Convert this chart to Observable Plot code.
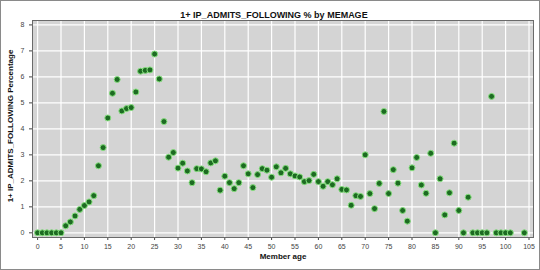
<!DOCTYPE html>
<html><head><meta charset="utf-8">
<script src="https://cdn.jsdelivr.net/npm/d3@7"></script>
<script src="https://cdn.jsdelivr.net/npm/@observablehq/plot@0.6"></script>
<style>
html,body{margin:0;padding:0;background:#fff;}
#chart{width:540px;height:270px;box-sizing:border-box;border:1px solid #8a8a8a;overflow:hidden;background:#fff;}
#chart svg{display:block;}
</style></head><body><div id="chart"></div>
<script>
const ages = [0,1,2,3,4,5,6,7,8,9,10,11,12,13,14,15,16,17,18,19,20,21,22,23,24,25,26,27,28,29,30,31,32,33,34,35,36,37,38,39,40,41,42,43,44,45,46,47,48,49,50,51,52,53,54,55,56,57,58,59,60,61,62,63,64,65,66,67,68,69,70,71,72,73,74,75,76,77,78,79,80,81,82,83,84,85,86,87,88,89,90,91,92,93,94,95,96,97,98,99,100,101,104];
const pct = [0,0,0,0,0,0,0.27,0.42,0.65,0.90,1.05,1.19,1.43,2.58,3.28,4.42,5.37,5.90,4.69,4.78,4.82,5.42,6.22,6.25,6.27,6.88,5.92,4.28,2.91,3.09,2.49,2.68,2.38,1.93,2.47,2.46,2.35,2.69,2.77,1.64,2.18,1.93,1.70,1.93,2.58,2.27,1.74,2.24,2.47,2.41,2.14,2.54,2.31,2.48,2.27,2.19,2.15,1.97,2.01,2.25,1.97,1.79,1.97,1.85,2.08,1.67,1.65,1.06,1.43,1.40,3.00,1.51,0.93,1.90,4.67,1.51,2.43,1.91,0.86,0.45,2.50,2.90,1.84,1.52,3.06,0,2.08,0.69,1.54,3.45,0.86,0,1.37,0,0,0,0,5.25,0,0,0,0,0];
const xTicks = [0,5,10,15,20,25,30,35,40,45,50,55,60,65,70,75,80,85,90,95,100,105];
const yTicks = [0,1,2,3,4,5,6,7,8];
const title = "1+ IP_ADMITS_FOLLOWING % by MEMAGE";
const xLabel = "Member age";
const yLabel = "1+ IP_ADMITS_FOLLOWING Percentage";

const data = ages.map((a, i) => ({age: a, pct: pct[i]}));

const chart = Plot.plot({
  width: 538, height: 268,
  marginLeft: 31, marginRight: 6, marginTop: 19, marginBottom: 32,
  style: {fontFamily: "'Liberation Sans', Arial, sans-serif", fontSize: "7px", color: "#444", background: "white"},
  x: {domain: [-1.09, 105.96], ticks: xTicks, tickSize: 3, tickPadding: 3.5, label: null},
  y: {domain: [-0.18, 8.17], ticks: yTicks, tickSize: 3, tickPadding: 5, label: null},
  marks: [
    Plot.frame({fill: "#d4d4d4", stroke: null}),
    Plot.ruleX(xTicks, {stroke: "white", strokeWidth: 1.2}),
    Plot.ruleY(yTicks, {stroke: "white", strokeWidth: 1.2}),
    Plot.dot(data, {x: "age", y: "pct", r: 3, fill: "#1d6b22", stroke: "#86e07e", strokeWidth: 1}),
    Plot.frame({stroke: "#6a6a6a"}),
    Plot.text([title], {text: d => d, frameAnchor: "top", dy: -9, dx: -9, fontSize: 9, fontWeight: "bold", fill: "#111"}),
    Plot.text([xLabel], {text: d => d, frameAnchor: "bottom", dy: 21, fontSize: 8, fontWeight: "bold", fill: "#111"}),
    Plot.text([yLabel], {text: d => d, frameAnchor: "left", textAnchor: "middle", dx: -22, dy: -3, rotate: -90, fontSize: 8, fontWeight: "bold", fill: "#111"})
  ]
});
document.getElementById("chart").appendChild(chart);
</script></body></html>
